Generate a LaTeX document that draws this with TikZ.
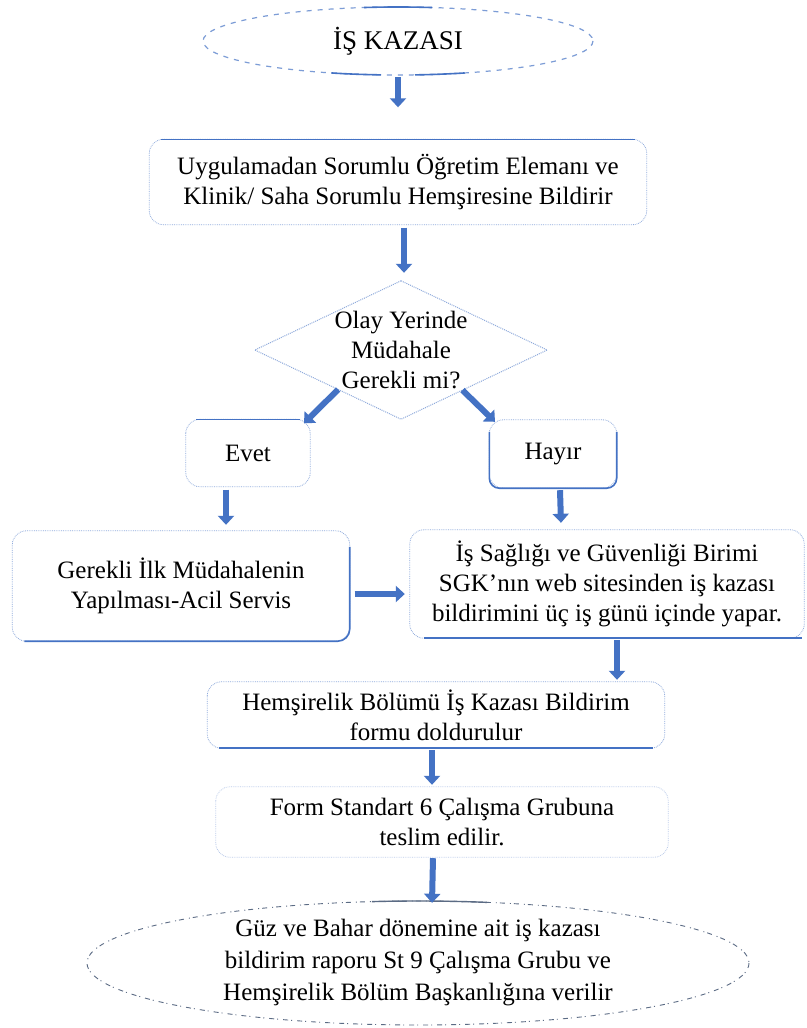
\documentclass[tikz,border=0pt]{standalone}
\usepackage{fontspec}
\setmainfont{Liberation Serif}
\usetikzlibrary{arrows.meta,calc}
\definecolor{oblue}{HTML}{4472C4}
\definecolor{lblue}{HTML}{8FAADC}
\definecolor{egray}{HTML}{5B6B84}
\begin{document}
\begin{tikzpicture}[x=1pt,y=-1pt,
  txt/.style={font=\fontsize{25}{30}\selectfont, align=center, inner sep=0pt},
  boxn/.style={txt, shape=rectangle},
  boxf/.style={draw=lblue, densely dotted, line width=0.8pt, rounded corners=14pt},
  solidedge/.style={draw=oblue, line width=1.6pt},
  ellf/.style={draw=oblue!70, dash pattern=on 5pt off 6pt, line width=1.2pt},
  arr/.style={draw=oblue, line width=6pt, -{Triangle[width=16pt,length=9pt]}},
]
\useasboundingbox (0,0) rectangle (806,1028);
\fill[white] (0,0) rectangle (806,1028);

% nodes
\node[boxn, minimum width=390pt, minimum height=68pt, font=\fontsize{27}{32}\selectfont] (e1) at (398,41) {İŞ KAZASI};
\node[boxn, minimum width=497pt, minimum height=85pt] (b2) at (398,182) {Uygulamadan Sorumlu Öğretim Elemanı ve\\Klinik/ Saha Sorumlu Hemşiresine Bildirir};
\node[boxn, minimum width=292pt, minimum height=138pt] (d) at (401,350) {Olay Yerinde\\Müdahale\\Gerekli mi?};
\node[boxn, minimum width=124pt, minimum height=67pt] (ev) at (248,453) {Evet};
\node[boxn, minimum width=127pt, minimum height=68pt] (hy) at (553,454) {Hayır};
\node[boxn, minimum width=337pt, minimum height=110pt] (gi) at (181,586) {Gerekli İlk Müdahalenin\\Yapılması-Acil Servis};
\node[boxn, minimum width=394pt, minimum height=108pt] (is) at (607,584) {İş Sağlığı ve Güvenliği Birimi\\SGK'nın web sitesinden iş kazası\\bildirimini üç iş günü içinde yapar.};
\node[boxn, minimum width=457pt, minimum height=66pt] (hb) at (436,715) {Hemşirelik Bölümü İş Kazası Bildirim\\formu doldurulur};
\node[boxn, minimum width=452pt, minimum height=70pt] (fs) at (442,822) {Form Standart 6 Çalışma Grubuna\\teslim edilir.};
\node[boxn, minimum width=662pt, minimum height=124pt, font=\fontsize{25}{32}\selectfont] (e2) at (418,963) {Güz ve Bahar dönemine ait iş kazası\\bildirim raporu St 9 Çalışma Grubu ve\\Hemşirelik Bölüm Başkanlığına verilir};

% outlines
\draw[ellf] (e1.center) ellipse [x radius=195, y radius=34];
\draw[solidedge] ([shift={(260:195 and 34)}]e1.center) arc[start angle=260, end angle=280, x radius=195, y radius=34];
\draw[solidedge] ([shift={(70:195 and 34)}]e1.center) arc[start angle=70, end angle=85, x radius=195, y radius=34];
\draw[solidedge] ([shift={(95:195 and 34)}]e1.center) arc[start angle=95, end angle=110, x radius=195, y radius=34];

\draw[boxf] (b2.north west) rectangle (b2.south east);
\draw[solidedge] ([xshift=12pt]b2.north west) -- ([xshift=-12pt]b2.north east);

\draw[lblue, densely dotted, line width=1pt] (d.north) -- (d.east) -- (d.south) -- (d.west) -- cycle;

\draw[boxf] (ev.north west) rectangle (ev.south east);
\draw[solidedge] ([xshift=10pt]ev.north west) -- ([xshift=-10pt]ev.north east);

\draw[boxf] (hy.north west) rectangle (hy.south east);
\draw[solidedge, rounded corners=10pt] ([yshift=-12pt]hy.north west) -- (hy.south west) -- (hy.south east) -- ([yshift=-12pt]hy.north east);

\draw[boxf] (gi.north west) rectangle (gi.south east);
\draw[solidedge, rounded corners=12pt] ([yshift=-16pt]gi.north east) -- (gi.south east) -- ([xshift=12pt]gi.south west);

\draw[boxf] (is.north west) rectangle (is.south east);
\draw[solidedge] ([xshift=14pt]is.south west) -- ([xshift=-2pt]is.south east);

\draw[boxf] (hb.north west) rectangle (hb.south east);
\draw[solidedge] ([xshift=12pt]hb.south west) -- ([xshift=-12pt]hb.south east);

\draw[boxf, draw=lblue!60] (fs.north west) rectangle (fs.south east);

\draw[draw=egray, dash pattern=on 5pt off 5pt on 1pt off 3pt, line width=0.9pt] (e2.center) ellipse [x radius=331, y radius=62];
\draw[draw=egray, line width=1.4pt] ([shift={(262:331 and 62)}]e2.center) arc[start angle=262, end angle=282, x radius=331, y radius=62];

% connectors
\draw[arr] ([yshift=-2pt]e1.south) -- ([yshift=32pt]b2.north);
\draw[arr] ([xshift=6pt,yshift=-3pt]b2.south) -- ([xshift=3pt,yshift=8pt]d.north);
\coordinate (dl) at ($(d.west)!0.57!(d.south)$);
\coordinate (dr) at ($(d.east)!0.58!(d.south)$);
\coordinate (evt) at ([xshift=56pt,yshift=-4pt]ev.north);
\coordinate (hyt) at ([xshift=-58pt,yshift=-2pt]hy.north);
\draw[arr] (dl) -- (evt);
\draw[arr] (dr) -- (hyt);
\draw[arr] ([xshift=-22pt,yshift=-3pt]ev.south) -- ([xshift=45pt,yshift=6pt]gi.north);
\draw[arr] ([xshift=7pt,yshift=-2pt]hy.south) -- ([xshift=-46pt,yshift=7pt]is.north);
\draw[arr] ([xshift=5pt,yshift=-8pt]gi.east) -- ([xshift=-5pt,yshift=-10pt]is.west);
\draw[arr] ([xshift=10pt,yshift=-2pt]is.south) -- ([xshift=181pt,yshift=2pt]hb.north);
\draw[arr] ([xshift=-4pt,yshift=-2pt]hb.south) -- ([xshift=-10pt,yshift=2pt]fs.north);
\draw[arr] ([xshift=-9pt,yshift=-1pt]fs.south) -- ([xshift=14pt,yshift=-2pt]e2.north);
\end{tikzpicture}
\end{document}
